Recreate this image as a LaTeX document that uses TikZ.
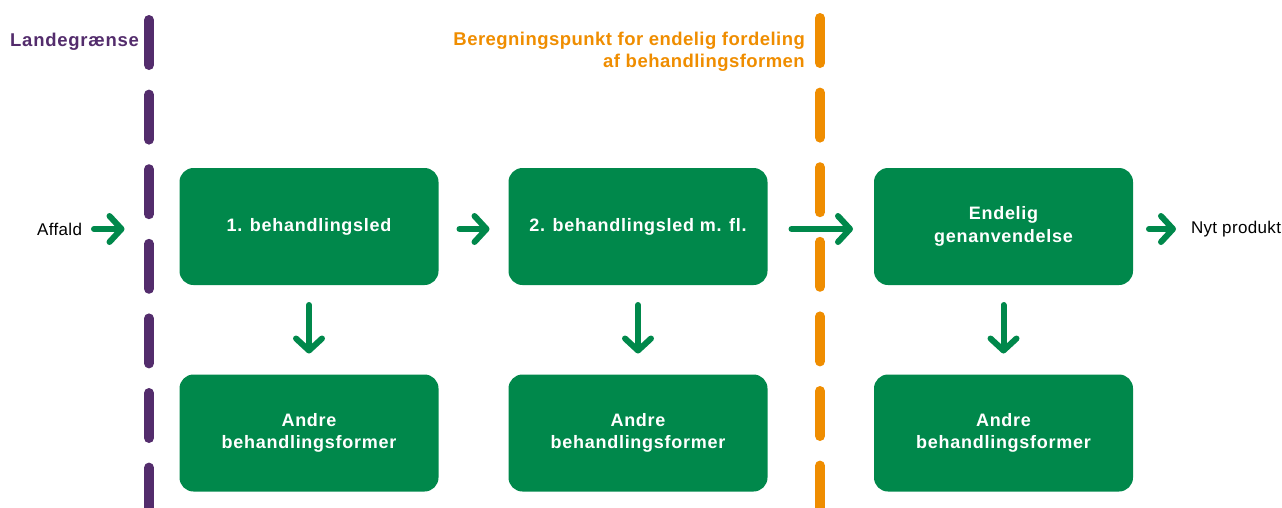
\documentclass[tikz,border=0pt]{standalone}
\usepackage{fontspec}
\setmainfont{Liberation Sans}
\newfontfamily\spaced[LetterSpace=4]{Liberation Sans}
\newfontfamily\spacedo[LetterSpace=2.5]{Liberation Sans}
\newfontfamily\spacedb[LetterSpace=2]{Liberation Sans}
\usetikzlibrary{arrows.meta}
\definecolor{grn}{HTML}{00884B}
\definecolor{prp}{HTML}{532C6C}
\definecolor{org}{HTML}{EF8D00}
\begin{document}
\begin{tikzpicture}[x=1pt,y=-1pt,
  box/.style={draw=none,fill=grn,rounded corners=14pt,minimum width=259pt,minimum height=117pt,
    text=white,font=\spaced\bfseries\fontsize{18}{22.5}\selectfont,align=center,inner sep=0pt,outer sep=0pt},
  arr/.style={draw=grn,line width=6pt,line cap=round,line join=round,
    -{Straight Barb[length=12pt,width=26pt,line cap=round,line join=round]}},
  border/.style={line width=10pt,line cap=round,dash pattern=on 45pt off 29.6pt},
  plain/.style={font=\spacedb\fontsize{17}{20}\selectfont,inner sep=0pt,outer sep=0pt}
]
\useasboundingbox (0,0) rectangle (1282,507);
% dashed borders
\draw[border,prp] (149,20) -- (149,520);
\draw[border,org] (820,18) -- (820,520);
% labels
\node[anchor=west,text=prp,font=\spaced\bfseries\fontsize{18.5}{22}\selectfont,inner sep=0pt] (lg) at (10,42) {Landegrænse};
\node[anchor=east,text=org,font=\spacedo\bfseries\fontsize{18.5}{22}\selectfont,align=right,inner sep=0pt] (bp) at (805,52) {Beregningspunkt for endelig fordeling\\af behandlingsformen};
% boxes
\node[box] (b1) at (309,226.5) {1. behandlingsled};
\node[box] (b2) at (638,226.5) {2. behandlingsled m. fl.};
\node[box] (b3) at (1003.5,226.5) {Endelig\\genanvendelse};
\node[box] (b4) at (309,433) {Andre\\behandlingsformer};
\node[box] (b5) at (638,433) {Andre\\behandlingsformer};
\node[box] (b6) at (1003.5,433) {Andre\\behandlingsformer};
\node[plain,anchor=east] (af) at (82,229) {Affald};
\node[plain,anchor=west] (np) at (1191,229) {Nyt produkt};
% arrows
\draw[arr,shorten <=12pt,shorten >=55pt] (af.east) -- (b1.west |- af.east);
\draw[arr,shorten <=21pt,shorten >=19pt] (b1.east |- af.east) -- (b2.west |- af.east);
\draw[arr,shorten <=24pt,shorten >=21pt] (b2.east |- af.east) -- (b3.west |- af.east);
\draw[arr,shorten <=16pt,shorten >=15pt] (b3.east |- af.east) -- (np.west);
\draw[arr,shorten <=20pt,shorten >=21pt] (b1) -- (b4);
\draw[arr,shorten <=20pt,shorten >=21pt] (b2) -- (b5);
\draw[arr,shorten <=20pt,shorten >=21pt] (b3) -- (b6);
\end{tikzpicture}
\end{document}
